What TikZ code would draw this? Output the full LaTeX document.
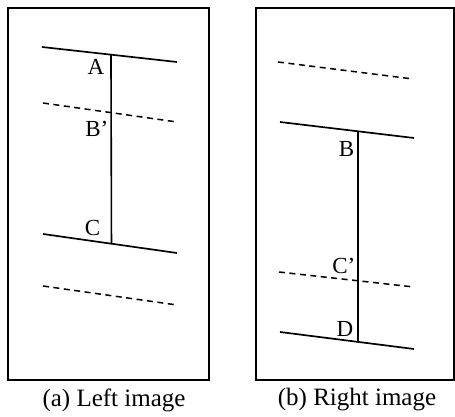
\documentclass[tikz,border=0pt]{standalone}
\usepackage{fontspec}
\setmainfont{Liberation Serif}
\usetikzlibrary{calc}
\tikzset{
  every picture/.style={color=black, line width=1.5pt},
  frame/.style={draw, line width=1.5pt},
  edge/.style={line width=1.7pt},
  ghost/.style={line width=1.5pt, dash pattern=on 6pt off 4.5pt},
  span/.style={line width=1.6pt},
  tag/.style={font=\fontsize{23}{27}\selectfont, inner sep=0pt, anchor=east},
  caption/.style={font=\fontsize{25}{30}\selectfont, inner sep=0pt},
}

\begin{document}
\begin{tikzpicture}[x=1pt, y=-1pt]
  \useasboundingbox (0,0) rectangle (455,417);

  % left image
  \draw[frame] (8,8) rectangle (209,380);
  \coordinate (la1) at (42,47);  \coordinate (la2) at (177,62);
  \coordinate (lb1) at (43,103); \coordinate (lb2) at (177,122);
  \coordinate (lc1) at (43,234); \coordinate (lc2) at (177,253);
  \coordinate (ld1) at (43,286); \coordinate (ld2) at (177,305);
  \draw[edge] (la1) -- (la2);
  \draw[ghost] (lb1) -- (lb2);
  \draw[edge] (lc1) -- (lc2);
  \draw[ghost] (ld1) -- (ld2);
  \coordinate (ptA) at ($(la1)!0.511!(la2)$);
  \coordinate (ptC) at ($(lc1)!0.511!(lc2)$);
  \draw[span] (ptA) -- (ptC);
  \node[tag] (A) at (105,67) {A};
  \node[tag] (Bp) at (109,129) {B'};
  \node[tag] (C) at (101,228) {C};
  \node[caption] (capa) at (114,400) {(a) Left image};

  % right image
  \draw[frame] (256,8) rectangle (454,380);
  \coordinate (ra1) at (278,62);  \coordinate (ra2) at (413,79);
  \coordinate (rb1) at (280,122); \coordinate (rb2) at (414,138);
  \coordinate (rc1) at (279,272); \coordinate (rc2) at (414,287);
  \coordinate (rd1) at (280,332); \coordinate (rd2) at (414,349);
  \draw[ghost] (ra1) -- (ra2);
  \draw[edge] (rb1) -- (rb2);
  \draw[ghost] (rc1) -- (rc2);
  \draw[edge] (rd1) -- (rd2);
  \coordinate (ptB) at ($(rb1)!0.582!(rb2)$);
  \coordinate (ptD) at ($(rd1)!0.582!(rd2)$);
  \draw[span] (ptB) -- (ptD);
  \node[tag] (B) at (355,149) {B};
  \node[tag] (Cp) at (356,266) {C'};
  \node[tag] (D) at (354,329) {D};
  \node[caption] (capb) at (357,400) {(b) Right image};
\end{tikzpicture}
\end{document}
